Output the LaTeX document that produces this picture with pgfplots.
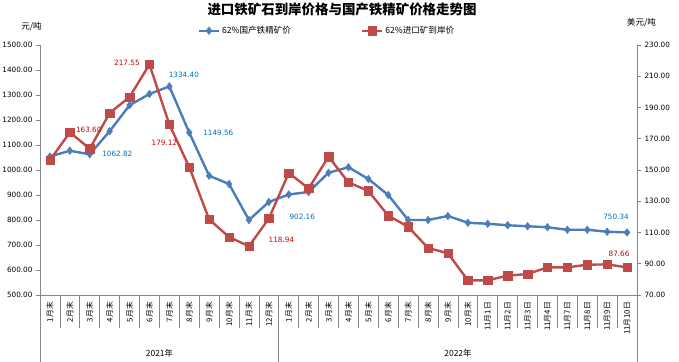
\documentclass[border=0pt]{standalone}
\usepackage{fontspec}
\setmainfont{DejaVu Sans}
\newfontfamily\cjk{Noto Sans CJK SC}
\usepackage{pgfplots}
\pgfplotsset{compat=1.18}
\definecolor{bl}{HTML}{4A7EBB}
\definecolor{rd}{HTML}{BE4B48}
\definecolor{axc}{HTML}{868686}
\definecolor{bltxt}{HTML}{0070C0}
\definecolor{rdtxt}{HTML}{D00000}
\pgfplotsset{
  base/.style={
    width=597bp, height=250bp, scale only axis, at={(0,0)}, anchor=south west,
    xmin=-0.5, xmax=29.5, xtick=\empty, clip=false,
    axis line style={draw=axc, line width=0.8bp, -},
    tick style={draw=axc, line width=0.8bp},
    tick align=outside, major tick length=4bp,
    yticklabel style={font=\fontsize{7.3}{8}\selectfont, /pgf/number format/.cd, fixed, fixed zerofill, precision=2, 1000 sep={}, assume math mode=true},
    legend image code/.code={\draw[mark repeat=2, mark phase=2, #1] plot coordinates {(0bp,0bp) (10bp,0bp) (20bp,0bp)};},
  },
  blstyle/.style={draw=bl, line width=2.4bp, mark=diamond*, mark size=3.8bp, mark options={solid, fill=bl, draw=bl, line width=0.5bp}},
  rdstyle/.style={draw=rd, line width=2.4bp, mark=square*, mark size=4.2bp, mark options={solid, fill=rd, draw=rd, line width=0.5bp}},
}
\pgfplotstableread{
x blue
0 1054
1 1077
2 1062.82
3 1155
4 1259
5 1304
6 1334.40
7 1149.56
8 977
9 944
10 800
11 872
12 902.16
13 912
14 989
15 1011
16 964
17 900
18 800
19 800
20 816
21 789
22 785
23 779
24 775
25 771
26 761
27 761
28 753
29 750.34
}\bluedata
\pgfplotstableread{
x red
0 156.3
1 174.1
2 163.60
3 186.5
4 196.7
5 217.55
6 179.12
7 151.9
8 118.4
9 107.1
10 101.2
11 118.94
12 148.1
13 138.2
14 158.5
15 142.1
16 136.6
17 120.8
18 113.7
19 100.1
20 96.7
21 79.4
22 79.4
23 82.4
24 83.4
25 87.7
26 87.7
27 89.4
28 89.6
29 87.66
}\reddata
\begin{document}
\begin{tikzpicture}
\path[use as bounding box] (-40bp,-67bp) rectangle (639bp,295bp);
\begin{axis}[base,
  ymin=500, ymax=1500, ytick={500,600,...,1500},
  axis x line*=bottom, axis y line*=left,
  legend style={at={(0.4807,1.057)}, anchor=center, draw=none, fill=none,
    legend columns=2, font=\cjk\fontsize{8.6}{10}\selectfont,
    /tikz/every even column/.append style={column sep=68bp}},
]
\addplot[blstyle] table[x=x,y=blue] {\bluedata};
\addlegendentry{62\%国产铁精矿价}
\addlegendimage{rdstyle}
\addlegendentry{62\%进口矿到岸价}
\begin{scope}[font=\fontsize{7.3}{8}\selectfont, text=bltxt]
\node[anchor=west, xshift=9bp] at (axis cs:2,1062.82) {1062.82};
\node[xshift=14.5bp, yshift=12bp] at (axis cs:6,1334.40) {1334.40};
\node[anchor=west, xshift=10.5bp, yshift=-0.5bp] at (axis cs:7,1149.56) {1149.56};
\node[xshift=13.5bp, yshift=-22bp] at (axis cs:12,902.16) {902.16};
\node[xshift=-11bp, yshift=15.4bp] at (axis cs:29,750.34) {750.34};
\end{scope}
\end{axis}
\begin{axis}[base,
  ymin=70, ymax=230, ytick={70,90,...,230},
  axis x line=none, axis y line*=right,
]
\addplot[rdstyle] table[x=x,y=red] {\reddata};
\begin{scope}[font=\fontsize{7.3}{8}\selectfont, text=rdtxt]
\node[xshift=-1bp, yshift=18.75bp] at (axis cs:2,163.60) {163.60};
\node[xshift=-22.5bp, yshift=1.5bp] at (axis cs:5,217.55) {217.55};
\node[xshift=-5bp, yshift=-18.5bp] at (axis cs:6,179.12) {179.12};
\node[xshift=12.6bp, yshift=-21.5bp] at (axis cs:11,118.94) {118.94};
\node[xshift=-8bp, yshift=13.4bp] at (axis cs:29,87.66) {87.66};
\end{scope}
\end{axis}
% category separators
\foreach \k in {0,...,30} \draw[axc, line width=0.8bp] (\k*19.9bp,0) -- ++(0,-33bp);
\foreach \k in {0,12,30} \draw[axc, line width=0.8bp] (\k*19.9bp,0) -- ++(0,-67bp);
\foreach \lab [count=\i from 0] in {1月末,2月末,3月末,4月末,5月末,6月末,7月末,8月末,9月末,10月末,11月末,12月末,1月末,2月末,3月末,4月末,5月末,6月末,7月末,8月末,9月末,10月末,11月1日,11月2日,11月3日,11月4日,11月7日,11月8日,11月9日,11月10日}
  \node[rotate=90, anchor=east, inner sep=0pt, font=\cjk\fontsize{7.8}{8}\selectfont] at ({(\i+0.5)*19.9bp}, -7bp) {\lab};
\node[font=\cjk\fontsize{8.5}{10}\selectfont] at (119.5bp,-58bp) {2021年};
\node[font=\cjk\fontsize{8.5}{10}\selectfont] at (418bp,-58bp) {2022年};
% titles
\node[font=\cjk\bfseries\fontsize{13.5}{15}\selectfont] at (302bp,285.5bp) {进口铁矿石到岸价格与国产铁精矿价格走势图};
\node[font=\cjk\fontsize{8.6}{10}\selectfont] at (-8.5bp,268bp) {元/吨};
\node[font=\cjk\fontsize{8.6}{10}\selectfont] at (601.5bp,272bp) {美元/吨};
\end{tikzpicture}
\end{document}
